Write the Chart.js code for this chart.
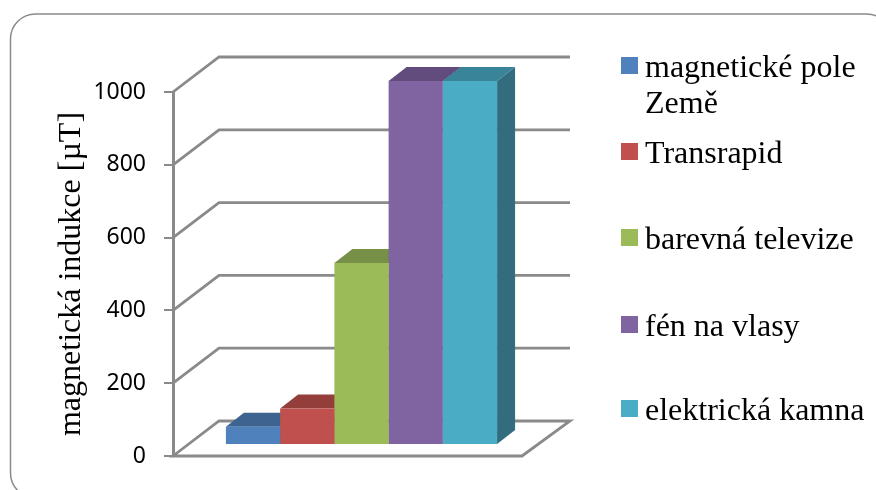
<!DOCTYPE html>
<html>
<head>
<meta charset="utf-8">
<title>magnetická indukce</title>
<script src="https://cdn.jsdelivr.net/npm/chart.js@4"></script>
<style>
  html, body { margin: 0; padding: 0; background: #fff; }
  canvas { display: block; }
</style>
</head>
<body>
<canvas id="chart" width="876" height="490"></canvas>
<script>
const seriesNames = ['magnetické pole\nZemě', 'Transrapid', 'barevná televize', 'fén na vlasy', 'elektrická kamna'];
const seriesValues = [50, 100, 500, 1000, 1000];
const yTicks = [0, 200, 400, 600, 800, 1000];
const axisTitle = 'magnetická indukce [µT]';

const frontColors = ['#4f81bd', '#c0504d', '#9bbb59', '#8064a2', '#4bacc6'];
const topColors = ['#3d6491', '#943e3b', '#779047', '#624c7e', '#3a8499'];
const sideColors = ['#2f4e72', '#74302e', '#5d7138', '#4c3b62', '#326c7e'];
const legendBaselines = [77, 163, 249, 336, 420];

const GRID = '#8a8a8a';
const WALL_DX = 46, WALL_DY = -35;   // back wall offset
const BAR_DX = 14, BAR_DY = -11;     // bars stand in the middle of the floor
const DEPTH_DX = 18, DEPTH_DY = -14; // bar depth

function line(ctx, points, close) {
  ctx.beginPath();
  points.forEach((p, i) => i ? ctx.lineTo(p[0], p[1]) : ctx.moveTo(p[0], p[1]));
  if (close) ctx.closePath();
}

const scene3d = {
  id: 'scene3d',
  beforeDraw(chart) {
    const ctx = chart.ctx;
    ctx.save();
    ctx.fillStyle = '#fff';
    ctx.fillRect(0, 0, chart.width, chart.height);
    ctx.strokeStyle = GRID;
    ctx.lineWidth = 1.5;
    ctx.beginPath();
    ctx.roundRect(10.5, 14, 881, 484, 25);
    ctx.stroke();
    ctx.restore();
  },
  beforeDatasetsDraw(chart) {
    const ctx = chart.ctx;
    const y = chart.scales.y;
    const { left, right } = chart.chartArea;

    // walls and floor
    ctx.save();
    ctx.strokeStyle = GRID;
    ctx.lineWidth = 2.8;
    ctx.lineJoin = 'miter';
    yTicks.forEach(v => {
      const py = y.getPixelForValue(v);
      if (v === 0) {
        line(ctx, [[left, py], [left + WALL_DX, py + WALL_DY], [right + WALL_DX + 2, py + WALL_DY], [right, py]], true);
      } else {
        line(ctx, [[left, py], [left + WALL_DX, py + WALL_DY], [right + WALL_DX + 2, py + WALL_DY]]);
      }
      ctx.stroke();
    });
    ctx.restore();

    // bar depth, fronts are drawn over it by the library
    ctx.save();
    ctx.translate(BAR_DX, BAR_DY);
    chart.data.datasets.forEach((ds, i) => {
      const bar = chart.getDatasetMeta(i).data[0];
      const x0 = bar.x - bar.width / 2, x1 = bar.x + bar.width / 2;
      const top = bar.y, base = bar.base;
      ctx.fillStyle = sideColors[i];
      line(ctx, [[x1, top], [x1 + DEPTH_DX, top + DEPTH_DY], [x1 + DEPTH_DX, base + DEPTH_DY], [x1, base]], true);
      ctx.fill();
      ctx.fillStyle = topColors[i];
      line(ctx, [[x0, top], [x0 + DEPTH_DX, top + DEPTH_DY], [x1 + DEPTH_DX, top + DEPTH_DY], [x1, top]], true);
      ctx.fill();
    });
  },
  afterDatasetsDraw(chart) {
    chart.ctx.restore();
  },
  afterDraw(chart) {
    // legend spacing in the original is not even, so it is drawn here
    const ctx = chart.ctx;
    ctx.save();
    ctx.font = '32px "Liberation Serif"';
    ctx.textBaseline = 'alphabetic';
    seriesNames.forEach((name, i) => {
      const base = legendBaselines[i];
      ctx.fillStyle = frontColors[i];
      ctx.fillRect(621, base - 20, 17, 17);
      ctx.fillStyle = '#000';
      name.split('\n').forEach((txt, n) => ctx.fillText(txt, 645, base + n * 36));
    });
    ctx.restore();
  }
};

new Chart(document.getElementById('chart'), {
  type: 'bar',
  data: {
    labels: [''],
    datasets: seriesNames.map((name, i) => ({
      label: name,
      data: [seriesValues[i]],
      backgroundColor: frontColors[i],
      borderWidth: 0,
      categoryPercentage: 0.777,
      barPercentage: 1
    }))
  },
  options: {
    responsive: false,
    animation: false,
    layout: { padding: { left: 0, top: 92, right: 354, bottom: 34 } },
    plugins: { legend: { display: false }, tooltip: { enabled: false } },
    scales: {
      x: { display: false },
      y: {
        min: 0,
        max: 1000,
        afterFit(scale) { scale.width = 173; },
        afterBuildTicks(scale) { scale.ticks = yTicks.map(v => ({ value: v })); },
        border: { color: GRID, width: 3 },
        grid: { drawOnChartArea: false, color: GRID, lineWidth: 2, tickLength: 9 },
        ticks: {
          color: '#000',
          padding: 18,
          font: { family: '"Noto Sans"', size: 23 },
          callback: v => String(v)
        },
        title: {
          display: true,
          text: axisTitle,
          color: '#000',
          padding: { top: 52, bottom: 0 },
          font: { family: '"Liberation Serif"', size: 32 }
        }
      }
    }
  },
  plugins: [scene3d]
});
</script>
</body>
</html>
